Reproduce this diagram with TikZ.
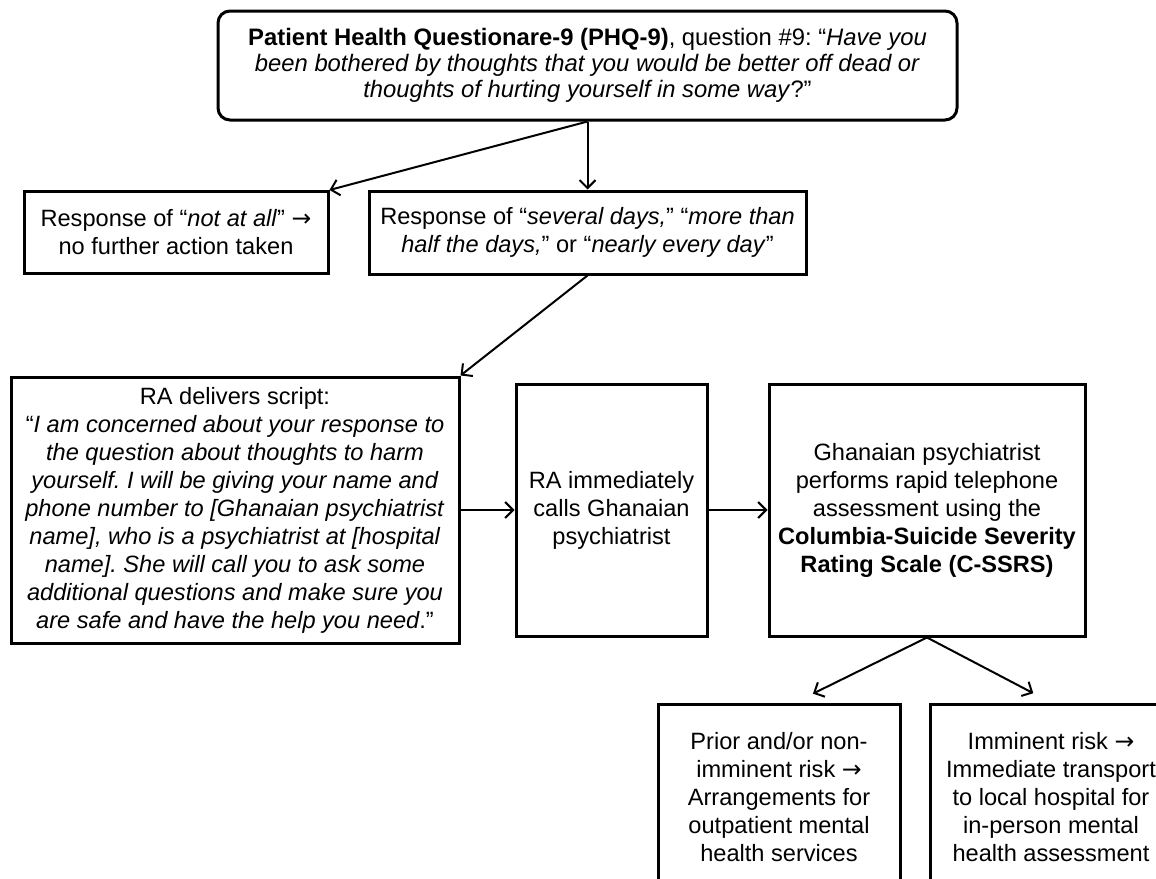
\documentclass[tikz,border=0pt]{standalone}
\usepackage{fontspec}
\setmainfont{Liberation Sans}
\newfontfamily\arrowfont{DejaVu Sans}
\usepackage{tikz}
\usetikzlibrary{positioning,arrows.meta}
\newcommand{\thenarrow}{{\arrowfont →}}
\tikzset{
  box/.style={draw, line width=1.5pt, fill=white, align=center, inner sep=2pt, font=\fontsize{11.8}{14}\selectfont},
  rbox/.style={box, rounded corners=6pt, font=\fontsize{11.9}{13}\selectfont},
  flow/.style={-{Straight Barb[length=4pt,width=8pt,line width=1pt]}, line width=1pt},
}
\frenchspacing

\begin{document}
\begin{tikzpicture}[x=0.5pt, y=-0.5pt]
\useasboundingbox (0,0) rectangle (1156,878);
\node[rbox, minimum width=369.5pt, minimum height=54.5pt] (phq) at (587.5,65.5) {\textbf{Patient Health Questionare-9 (PHQ-9)}, question \#9: “\textit{Have you}\\ \textit{been bothered by thoughts that you would be better off dead or}\\ \textit{thoughts of hurting yourself in some way}?”};
\node[box, minimum width=218.5pt, minimum height=41.5pt, below=34pt of phq] (several) {Response of “\textit{several days,}” “\textit{more than}\\ \textit{half the days,}” or “\textit{nearly every day}”};
\node[box, minimum width=152pt, minimum height=41pt, left=19pt of several] (notall) {Response of “\textit{not at all}” \thenarrow\\ no further action taken};
\node[box, minimum width=224pt, minimum height=133pt] (script) at (235,510) {RA delivers script:\\ “\textit{I am concerned about your response to}\\ \textit{the question about thoughts to harm}\\ \textit{yourself. I will be giving your name and}\\ \textit{phone number to [Ghanaian psychiatrist}\\ \textit{name], who is a psychiatrist at [hospital}\\ \textit{name]. She will call you to ask some}\\ \textit{additional questions and make sure you}\\ \textit{are safe and have the help you need}.”};
\node[box, minimum width=95.5pt, minimum height=126pt, right=27pt of script] (calls) {RA immediately\\ calls Ghanaian\\ psychiatrist};
\node[box, minimum width=158pt, minimum height=126pt, right=29.5pt of calls] (cssrs) {Ghanaian psychiatrist\\ performs rapid telephone\\ assessment using the\\ \textbf{Columbia-Suicide Severity}\\ \textbf{Rating Scale (C-SSRS)}};
\node[box, minimum width=121pt, minimum height=93pt, below=32.5pt of cssrs.south, anchor=north, xshift=-74pt] (prior) {Prior and/or non-\\ imminent risk \thenarrow\\ Arrangements for\\ outpatient mental\\ health services};
\node[box, minimum width=121pt, minimum height=93pt, right=13.5pt of prior] (imminent) {Imminent risk \thenarrow\\ Immediate transport\\ to local hospital for\\ in-person mental\\ health assessment};
\draw[flow] (phq.south) -- (several.north);
\draw[flow] (phq.south) -- (notall.north east);
\draw[flow] (several.south) -- (script.north east);
\draw[flow] (script) -- (calls);
\draw[flow] (calls) -- (cssrs);
\draw[flow, shorten >=10pt] (cssrs.south) -- ([xshift=8pt]prior.north);
\draw[flow, shorten >=10pt] (cssrs.south) -- (imminent.north);
\end{tikzpicture}
\end{document}
